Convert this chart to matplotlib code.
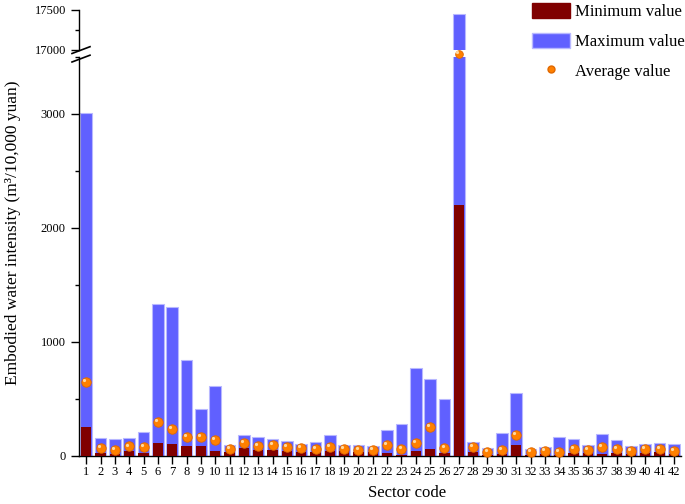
import numpy as np
import matplotlib
matplotlib.use('Agg')
import matplotlib.pyplot as plt
from matplotlib.patches import Patch
from matplotlib.lines import Line2D
from matplotlib.ticker import MultipleLocator

plt.rcParams['font.family'] = ['Liberation Serif', 'DejaVu Serif']

# data (10,000 yuan based intensity)
sectors = list(range(1, 43))
max_vals = [3010, 158, 152, 158, 210, 1333, 1310, 842, 412, 614,
            96, 184, 167, 149, 132, 105, 123, 184, 96, 93,
            90, 228, 281, 772, 675, 500, 17450, 123, 70, 202,
            552, 61, 79, 167, 149, 96, 193, 140, 88, 105,
            114, 105]
min_vals = [254, 26, 18, 44, 26, 114, 105, 88, 88, 44,
            35, 70, 53, 53, 44, 35, 35, 44, 44, 35,
            35, 26, 9, 44, 61, 26, 2200, 35, 9, 18,
            96, 9, 18, 9, 26, 26, 18, 26, 18, 26,
            35, 18]
avg_vals = [650, 70, 53, 85, 80, 300, 237, 167, 167, 140,
            61, 114, 88, 97, 79, 70, 62, 79, 62, 53,
            53, 96, 61, 114, 254, 70, 16950, 79, 35, 53,
            184, 35, 44, 35, 61, 53, 79, 61, 44, 61,
            62, 44]

BLUE = '#6060ff'
BLUE_EDGE = '#b8b8ff'
RED = '#800000'
ORANGE = '#ff8000'

W, H = 685, 504
fig = plt.figure(figsize=(W / 100, H / 100), dpi=100)


def fx(px):
    return px / W


def fy(py):
    return 1 - py / H


ax = fig.add_axes([fx(79), fy(456), fx(681) - fx(79), fy(57) - fy(456)])
ax_top = fig.add_axes([fx(79), fy(50), fx(681) - fx(79), fy(10) - fy(50)])

x = np.array(sectors)
mx = np.array(max_vals)
mn = np.array(min_vals)
av = np.array(avg_vals)


def draw_dots(a, xs, ys, ms=6.8):
    a.plot(xs, ys, 'o', color=ORANGE, mec='#e06800', mew=0.6, ms=ms,
           clip_on=False, zorder=5)
    a.plot(xs, ys, 'o', color='#ffd9a0', mec='none', ms=2.3,
           clip_on=False, zorder=6,
           transform=a.transData + matplotlib.transforms.ScaledTranslation(
               -1.3 / 72, 1.3 / 72, fig.dpi_scale_trans))


for a in (ax, ax_top):
    a.bar(x, mx, width=0.8, color=BLUE, edgecolor=BLUE_EDGE, linewidth=0.8, zorder=2)
    a.bar(x, mn, width=0.7, color=RED, linewidth=0, zorder=3)
    a.set_xlim(0.5, 42.5)
    a.spines['top'].set_visible(False)
    a.spines['right'].set_visible(False)
    a.spines['left'].set_linewidth(1.0)
    a.tick_params(axis='y', which='major', direction='out', length=5.5, width=1.0,
                  labelsize=9, pad=4)
    a.tick_params(axis='y', which='minor', direction='out', length=3, width=1.0)

low = av <= 3500
draw_dots(ax, x[low], av[low])
draw_dots(ax_top, x[~low], av[~low], ms=5.5)

ax.set_ylim(0, 3500)
ax.set_yticks([0, 1000, 2000, 3000])
ax.yaxis.set_minor_locator(MultipleLocator(500))
ax.spines['bottom'].set_linewidth(1.0)
ax.set_xticks(sectors)
ax.set_xticklabels([str(s) for s in sectors])
ax.tick_params(axis='x', direction='out', length=5.5, width=1.0, labelsize=9, pad=2)

ax_top.set_ylim(17000, 17500)
ax_top.set_yticks([17000, 17500])
ax_top.yaxis.set_minor_locator(MultipleLocator(250))
ax_top.spines['bottom'].set_visible(False)
ax_top.set_xticks([])

# break marks on the y axis
for y0 in (53.5, 62):
    fig.add_artist(Line2D([fx(72), fx(90)], [fy(y0), fy(y0 - 6.8)],
                          color='black', lw=1.2, transform=fig.transFigure))

fig.text(fx(13), fy(233), 'Embodied water intensity (m³/10,000 yuan)',
         rotation=90, ha='center', va='center', fontsize=12.5)
fig.text(fx(407), fy(493), 'Sector code', ha='center', va='center', fontsize=12)

handles = [Patch(facecolor=RED, edgecolor=RED),
           Patch(facecolor=BLUE, edgecolor=BLUE_EDGE),
           Line2D([], [], marker='o', ls='none', color=ORANGE, mec='#e06800', ms=5)]
fig.legend(handles, ['Minimum value', 'Maximum value', 'Average value'],
           loc='upper left', bbox_to_anchor=(fx(532), fy(3)), frameon=False,
           fontsize=12, handlelength=2.3, handleheight=1.0, handletextpad=0.3,
           labelspacing=0.75, borderpad=0, borderaxespad=0)

fig.savefig('out.png', dpi=100)
